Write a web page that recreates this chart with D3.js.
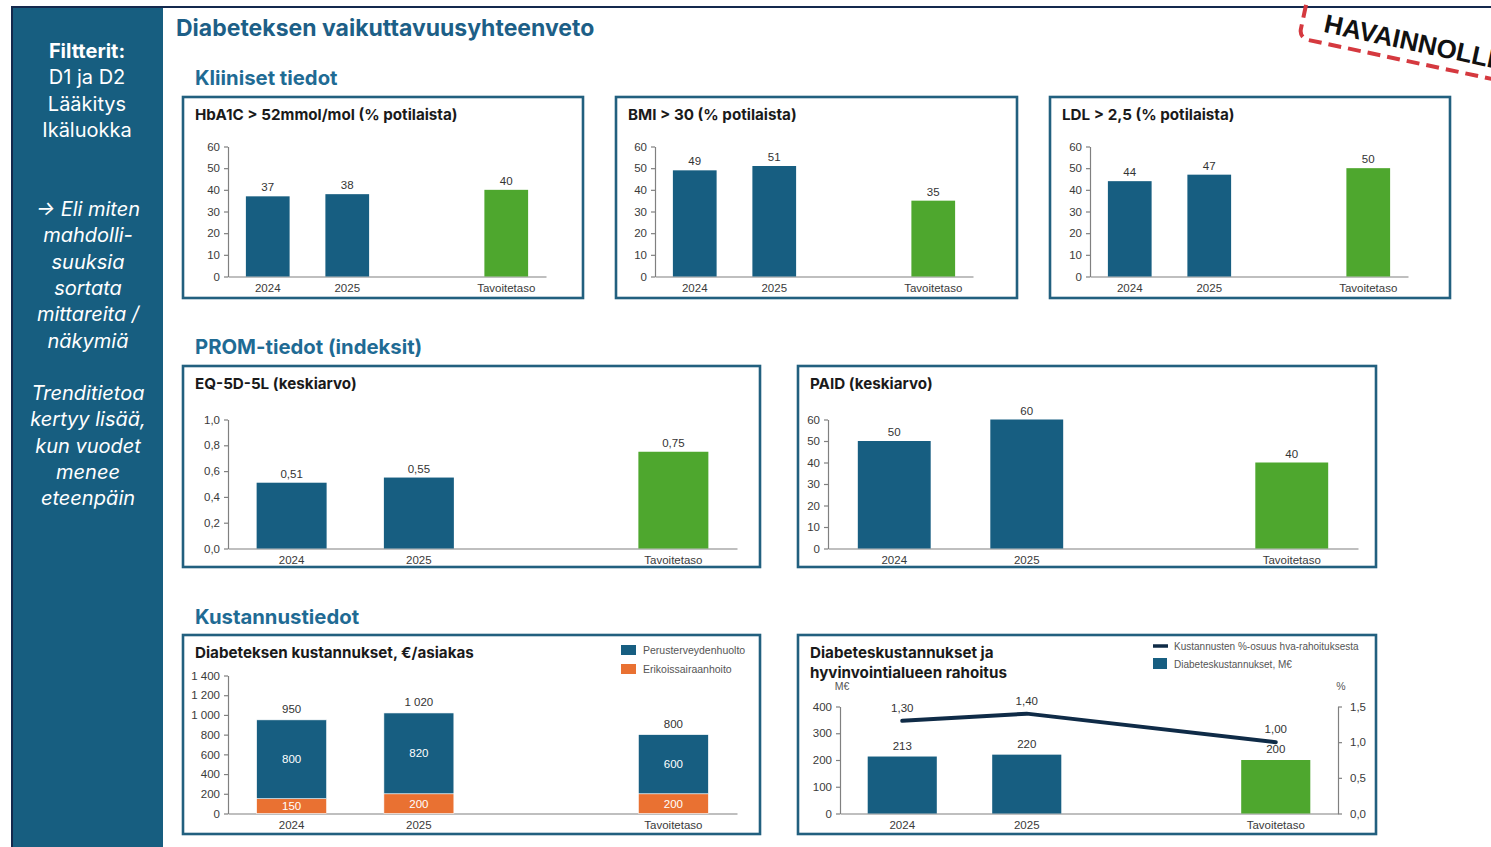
<!DOCTYPE html>
<meta charset="utf-8">
<style>
  body { margin: 0; background: #fff; }
  svg text { font-family: "Liberation Sans Narrow", "Liberation Sans", Arial, sans-serif; }
  svg text.head { font-family: Inter, "Noto Sans", sans-serif; font-weight: 700; }
  svg text.side { font-family: Inter, "Noto Sans", sans-serif; fill: #fff; font-size: 20px; }
  .axis path, .axis line { stroke: #808080; stroke-width: 1.2; }
  .axis text { font-size: 11.5px; fill: #3a3a3a; }
  .panel { fill: #fff; stroke: #22607f; stroke-width: 2.6; }
  .val { font-size: 11.5px; fill: #333; text-anchor: middle; }
  .legend { font-size: 10.5px; fill: #555; }
</style>
<body>
<script src="https://cdn.jsdelivr.net/npm/d3@7"></script>
<script>
  // ---- data ----
  var years = ["2024", "2025", "Tavoitetaso"];
  var slots = ["2024", "2025", "gap", "Tavoitetaso"];   // empty slot before the target bar

  var hba1c = [37, 38, 40];
  var bmi = [49, 51, 35];
  var ldl = [44, 47, 50];
  var eq5d = [0.51, 0.55, 0.75];
  var paid = [50, 60, 40];
  var costPrimary = [800, 820, 600];   // Perusterveydenhuolto
  var costSpecial = [150, 200, 200];   // Erikoissairaanhoito
  var costMeur = [213, 220, 200];      // Diabeteskustannukset, M€
  var costShare = [1.30, 1.40, 1.00];  // %-osuus hva-rahoituksesta

  var ticks60 = [0, 10, 20, 30, 40, 50, 60];
  var ticksEq = [0, 0.2, 0.4, 0.6, 0.8, 1.0];
  var ticksCost = [0, 200, 400, 600, 800, 1000, 1200, 1400];
  var ticksMeur = [0, 100, 200, 300, 400];
  var ticksPct = [0, 0.5, 1.0, 1.5];

  var sideLines = [
    { t: "Filtterit:", b: true },
    { t: "D1 ja D2" }, { t: "Lääkitys" }, { t: "Ikäluokka" }
  ];
  var sideItalic = ["→ Eli miten", "mahdolli-", "suuksia", "sortata", "mittareita /", "näkymiä",
    "", "Trenditietoa", "kertyy lisää,", "kun vuodet", "menee", "eteenpäin"];

  var BLUE = "#175e81", GREEN = "#4ea72e", ORANGE = "#e97132";
  var barColors = [BLUE, BLUE, GREEN];

  var fi = d3.formatLocale({ decimal: ",", thousands: " ", grouping: [3], currency: ["", "€"] });
  var fInt = fi.format(",d"), f1 = fi.format(".1f"), f2 = fi.format(".2f");

  var svg = d3.select("body").append("svg")
    .attr("width", 1491).attr("height", 847);

  // ---- frame, sidebar ----
  svg.append("line").attr("x1", 11).attr("x2", 1491).attr("y1", 7).attr("y2", 7)
    .attr("stroke", "#14294d").attr("stroke-width", 2);
  svg.append("rect").attr("x", 12).attr("y", 8).attr("width", 151).attr("height", 839)
    .attr("fill", "#175e80");
  svg.append("line").attr("x1", 12).attr("x2", 12).attr("y1", 7).attr("y2", 847)
    .attr("stroke", "#14294d").attr("stroke-width", 2);

  sideLines.forEach(function (d, i) {
    svg.append("text").attr("class", "side")
      .attr("x", 87).attr("y", 58 + i * 26.3).attr("text-anchor", "middle")
      .style("font-weight", d.b ? 700 : 400)
      .text(d.t);
  });
  sideItalic.forEach(function (t, i) {
    svg.append("text").attr("class", "side")
      .attr("x", 88).attr("y", 216 + i * 26.3).attr("text-anchor", "middle")
      .style("font-style", "italic")
      .text(t);
  });

  // ---- headings ----
  svg.append("text").attr("class", "head").attr("x", 176).attr("y", 36)
    .style("font-size", "23px").attr("fill", "#1d5f87")
    .text("Diabeteksen vaikuttavuusyhteenveto");
  [["Kliiniset tiedot", 85], ["PROM-tiedot (indeksit)", 354], ["Kustannustiedot", 624]].forEach(function (h) {
    svg.append("text").attr("class", "head").attr("x", 195).attr("y", h[1])
      .style("font-size", "20.3px").attr("fill", "#1f6b94")
      .text(h[0]);
  });

  // ---- stamp ----
  var stamp = svg.append("g").attr("transform", "translate(1299,38) rotate(12)");
  stamp.append("rect").attr("x", 0).attr("y", -80).attr("width", 320).attr("height", 80).attr("rx", 9)
    .attr("fill", "none").attr("stroke", "#d5393f").attr("stroke-width", 4)
    .attr("stroke-dasharray", "13 7");
  stamp.append("text").attr("x", 22).attr("y", -11)
    .style("font-family", "'Liberation Sans', Arial, sans-serif").style("font-weight", 700)
    .style("font-size", "26px").attr("fill", "#111")
    .text("HAVAINNOLLISTAVA");

  // ---- generic panel with bars ----
  function panel(box, titleLines) {
    svg.append("rect").attr("class", "panel")
      .attr("x", box.x).attr("y", box.y).attr("width", box.w).attr("height", box.h);
    titleLines.forEach(function (t, i) {
      svg.append("text").attr("class", "head")
        .attr("x", box.x + 12).attr("y", box.y + 23 + i * 19.5)
        .style("font-size", "15.2px").attr("fill", "#1a1a1a")
        .text(t);
    });
  }

  function axes(x, y, yTicks, fmt, x0, yBase) {
    svg.append("g").attr("class", "axis")
      .attr("transform", "translate(" + x0 + ",0)")
      .call(d3.axisLeft(y).tickValues(yTicks).tickFormat(fmt).tickSize(4).tickSizeOuter(0).tickPadding(4));
    svg.append("g").attr("class", "axis")
      .attr("transform", "translate(0," + yBase + ")")
      .call(d3.axisBottom(x).tickValues(years).tickSize(0).tickSizeOuter(0).tickPadding(7));
  }

  function barChart(opt) {
    panel(opt.box, opt.title);
    var x = d3.scaleBand().domain(slots).range([opt.x0, opt.x1]).paddingInner(opt.pad).paddingOuter(opt.pad / 2);
    var y = d3.scaleLinear().domain(opt.domain).range([opt.yb, opt.yt]);
    axes(x, y, opt.ticks, opt.fmt, opt.x0, opt.yb);
    svg.append("g").selectAll("rect").data(opt.values).join("rect")
      .attr("x", function (d, i) { return x(years[i]); })
      .attr("width", x.bandwidth())
      .attr("y", function (d) { return y(d); })
      .attr("height", function (d) { return y(0) - y(d); })
      .attr("fill", function (d, i) { return barColors[i]; });
    svg.append("g").selectAll("text").data(opt.values).join("text").attr("class", "val")
      .attr("x", function (d, i) { return x(years[i]) + x.bandwidth() / 2; })
      .attr("y", function (d) { return y(d) - 5; })
      .text(function (d) { return opt.vfmt(d); });
  }

  // clinical
  barChart({ box: { x: 183, y: 97, w: 400, h: 201 }, title: ["HbA1C > 52mmol/mol (% potilaista)"],
    x0: 228, x1: 546, yb: 276.5, yt: 146.5, domain: [0, 60], ticks: ticks60, fmt: fInt,
    values: hba1c, vfmt: fInt, pad: 0.45 });
  barChart({ box: { x: 616, y: 97, w: 401, h: 201 }, title: ["BMI > 30 (% potilaista)"],
    x0: 655, x1: 973, yb: 276.5, yt: 146.5, domain: [0, 60], ticks: ticks60, fmt: fInt,
    values: bmi, vfmt: fInt, pad: 0.45 });
  barChart({ box: { x: 1050, y: 97, w: 400, h: 201 }, title: ["LDL > 2,5 (% potilaista)"],
    x0: 1090, x1: 1408, yb: 276.5, yt: 146.5, domain: [0, 60], ticks: ticks60, fmt: fInt,
    values: ldl, vfmt: fInt, pad: 0.45 });

  // PROM
  barChart({ box: { x: 183, y: 366, w: 577, h: 201 }, title: ["EQ-5D-5L (keskiarvo)"],
    x0: 228, x1: 737, yb: 548.5, yt: 419.5, domain: [0, 1], ticks: ticksEq, fmt: f1,
    values: eq5d, vfmt: f2, pad: 0.45 });
  barChart({ box: { x: 798, y: 366, w: 578, h: 201 }, title: ["PAID (keskiarvo)"],
    x0: 828, x1: 1358, yb: 548.5, yt: 419.5, domain: [0, 60], ticks: ticks60, fmt: fInt,
    values: paid, vfmt: fInt, pad: 0.45 });

  // ---- cost per client, stacked ----
  (function () {
    var box = { x: 183, y: 635, w: 577, h: 199 };
    panel(box, ["Diabeteksen kustannukset, €/asiakas"]);
    var x = d3.scaleBand().domain(slots).range([228, 737]).paddingInner(0.45).paddingOuter(0.225);
    var y = d3.scaleLinear().domain([0, 1400]).range([813.5, 675.5]);
    axes(x, y, ticksCost, fInt, 228, 813.5);

    var rows = years.map(function (k, i) { return { key: k, spec: costSpecial[i], prim: costPrimary[i] }; });
    var stack = d3.stack().keys(["spec", "prim"])(rows);
    var cols = { spec: ORANGE, prim: BLUE };
    stack.forEach(function (layer) {
      svg.append("g").selectAll("rect").data(layer).join("rect")
        .attr("x", function (d) { return x(d.data.key); })
        .attr("width", x.bandwidth())
        .attr("y", function (d) { return y(d[1]); })
        .attr("height", function (d) { return y(d[0]) - y(d[1]); })
        .attr("fill", cols[layer.key])
        .attr("stroke", "#fff").attr("stroke-width", 0.6);
      svg.append("g").selectAll("text").data(layer).join("text").attr("class", "val")
        .attr("x", function (d) { return x(d.data.key) + x.bandwidth() / 2; })
        .attr("y", function (d) { return (y(d[0]) + y(d[1])) / 2 + 4; })
        .style("fill", "#fff")
        .text(function (d) { return fInt(d.data[layer.key]); });
    });
    svg.append("g").selectAll("text").data(rows).join("text").attr("class", "val")
      .attr("x", function (d) { return x(d.key) + x.bandwidth() / 2; })
      .attr("y", function (d) { return y(d.spec + d.prim) - 7; })
      .text(function (d) { return fInt(d.spec + d.prim); });

    var lg = svg.append("g").attr("transform", "translate(621,645)");
    [["Perusterveydenhuolto", BLUE], ["Erikoissairaanhoito", ORANGE]].forEach(function (l, i) {
      lg.append("rect").attr("x", 0).attr("y", i * 19).attr("width", 15).attr("height", 10).attr("fill", l[1]);
      lg.append("text").attr("class", "legend").attr("x", 22).attr("y", i * 19 + 9).text(l[0]);
    });
  })();

  // ---- costs vs funding, bars + line on second axis ----
  (function () {
    var box = { x: 798, y: 635, w: 578, h: 199 };
    panel(box, ["Diabeteskustannukset ja", "hyvinvointialueen rahoitus"]);
    var x0 = 840, x1 = 1338, yb = 813.5, yt = 706.5;
    var x = d3.scaleBand().domain(slots).range([x0, x1]).paddingInner(0.445).paddingOuter(0.2225);
    var y = d3.scaleLinear().domain([0, 400]).range([yb, yt]);
    var y2 = d3.scaleLinear().domain([0, 1.5]).range([yb, yt]);
    axes(x, y, ticksMeur, fInt, x0, yb);
    svg.append("g").attr("class", "axis")
      .attr("transform", "translate(" + x1 + ",0)")
      .call(d3.axisRight(y2).tickValues(ticksPct).tickFormat(f1).tickSize(4).tickSizeOuter(0).tickPadding(8));

    svg.append("text").attr("class", "legend").attr("x", 842).attr("y", 690)
      .attr("text-anchor", "middle").style("font-size", "10.5px").text("M€");
    svg.append("text").attr("class", "legend").attr("x", 1341).attr("y", 690)
      .attr("text-anchor", "middle").style("font-size", "10.5px").text("%");

    var cx = function (i) { return x(years[i]) + x.bandwidth() / 2; };
    svg.append("g").selectAll("rect").data(costMeur).join("rect")
      .attr("x", function (d, i) { return x(years[i]); })
      .attr("width", x.bandwidth())
      .attr("y", function (d) { return y(d); })
      .attr("height", function (d) { return y(0) - y(d); })
      .attr("fill", function (d, i) { return barColors[i]; });
    svg.append("g").selectAll("text").data(costMeur).join("text").attr("class", "val")
      .attr("x", function (d, i) { return cx(i); })
      .attr("y", function (d) { return y(d) - 7; })
      .text(function (d) { return fInt(d); });

    svg.append("path").datum(costShare)
      .attr("fill", "none").attr("stroke", "#0f2b47").attr("stroke-width", 4).attr("stroke-linecap", "round")
      .attr("d", d3.line().x(function (d, i) { return cx(i); }).y(function (d) { return y2(d); }));
    svg.append("g").selectAll("text").data(costShare).join("text").attr("class", "val")
      .attr("x", function (d, i) { return cx(i); })
      .attr("y", function (d) { return y2(d) - 9; })
      .text(function (d) { return f2(d); });

    var lg = svg.append("g").attr("transform", "translate(1153,642)");
    lg.append("line").attr("x1", 0).attr("x2", 15).attr("y1", 4).attr("y2", 4)
      .attr("stroke", "#0f2b47").attr("stroke-width", 3.5);
    lg.append("text").attr("class", "legend").attr("x", 21).attr("y", 7.5).style("font-size", "10px")
      .text("Kustannusten %-osuus hva-rahoituksesta");
    lg.append("rect").attr("x", 0).attr("y", 16).attr("width", 14).attr("height", 11).attr("fill", BLUE);
    lg.append("text").attr("class", "legend").attr("x", 21).attr("y", 26).style("font-size", "10px")
      .text("Diabeteskustannukset, M€");
  })();
</script>
</body>
